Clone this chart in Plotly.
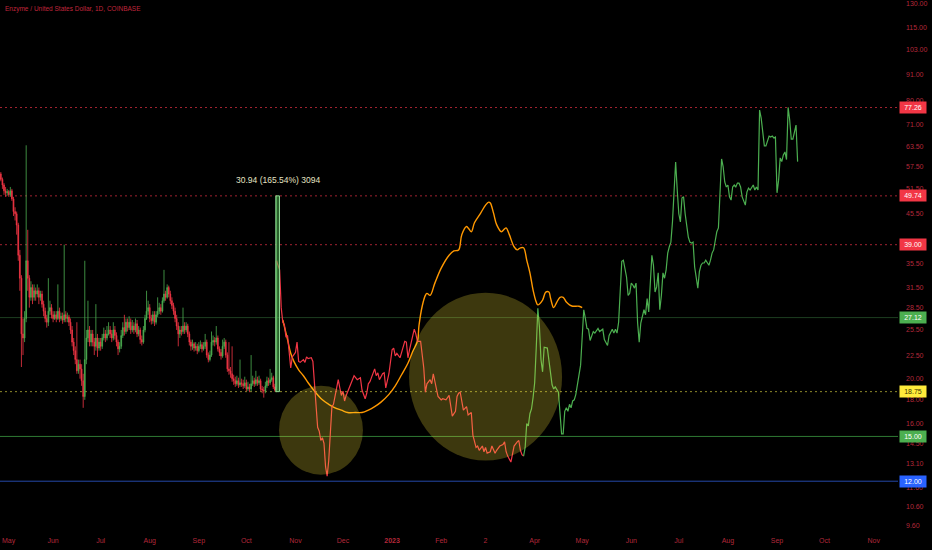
import numpy as np
import pandas as pd
import plotly.graph_objects as go

# ---------------- data ----------------
base_date = pd.Timestamp('2022-05-01')
candle_start = '2022-04-29'
first_open = 55.5
closes = [54.0, 52.5, 51.0, 50.5, 50.8, 50.0, 51.0, 49.0, 46.0, 45.5,
          43.0, 37.0, 33.0, 25.0, 24.5, 27.0, 36.0, 33.0, 30.0, 31.5,
          30.0, 31.0, 30.5, 31.0, 30.0, 30.5, 29.0, 28.0, 27.0, 26.5,
          28.0, 28.5, 27.5, 27.0, 27.5, 27.0, 28.0, 27.0, 27.3, 26.8,
          27.5, 27.0, 27.2, 26.5, 25.5, 24.0, 23.0, 22.0, 20.8, 21.5,
          21.0, 19.8, 18.3, 22.0, 24.5, 25.5, 24.0, 25.0, 24.0, 23.5,
          24.5, 23.3, 24.0, 23.5, 24.5, 25.0, 24.5, 25.0, 25.5, 25.0,
          24.5, 25.5, 24.8, 24.0, 23.2, 23.5, 24.8, 25.8, 25.3, 26.5,
          25.8, 26.5, 25.5, 26.0, 25.5, 26.3, 25.0, 25.5, 24.3, 24.0,
          25.5, 27.0, 28.0, 28.5, 27.0, 26.7, 27.5, 26.5, 27.5, 28.0,
          28.5, 28.0, 29.5, 30.5, 30.0, 31.5, 30.5, 29.5, 28.8, 28.0,
          27.0, 26.0, 25.0, 25.5, 25.3, 26.0, 25.5, 26.0, 25.0, 24.0,
          23.5, 23.8, 23.3, 23.5, 23.0, 23.5, 23.7, 23.2, 23.5, 24.0,
          22.5, 22.0, 22.5, 24.0, 24.2, 24.0, 24.5, 23.2, 22.8, 22.4,
          23.5, 24.0, 22.5, 21.0, 20.8, 20.5, 20.0, 19.8, 19.5, 19.8,
          19.4, 19.6, 19.5, 19.3, 19.6, 19.0, 19.2, 19.0, 19.5, 19.8,
          19.5, 19.9, 19.6, 19.8, 19.0, 18.9, 18.8, 19.3, 19.8, 19.6,
          19.9, 20.1, 19.2, 18.9, 36.0]
highs = [56.0, 54.5, 53.0, 52.0, 51.5, 51.2, 52.0, 51.5, 49.5, 47.0,
         46.0, 43.5, 38.0, 33.5, 27.0, 28.0, 64.0, 42.0, 33.5, 32.5,
         32.0, 32.0, 31.5, 32.0, 31.5, 31.0, 31.0, 29.5, 28.5, 27.5,
         33.0, 29.5, 29.0, 28.0, 28.0, 28.0, 32.0, 28.5, 27.8, 27.8,
         39.0, 28.0, 27.8, 27.5, 27.0, 26.0, 24.5, 23.5, 26.5, 22.0,
         22.0, 21.5, 20.5, 36.0, 25.5, 29.5, 26.0, 25.5, 25.5, 24.5,
         29.0, 25.0, 24.5, 24.5, 25.0, 25.8, 25.5, 26.0, 26.5, 26.0,
         25.5, 26.5, 26.0, 25.2, 24.3, 24.0, 25.5, 26.5, 27.5, 27.0,
         27.0, 27.3, 27.0, 26.8, 26.5, 27.0, 26.8, 26.0, 25.8, 24.8,
         26.0, 27.5, 31.0, 29.5, 29.0, 27.5, 28.0, 28.0, 28.0, 30.0,
         29.2, 29.0, 30.0, 34.4, 31.0, 32.0, 31.8, 31.0, 30.0, 29.2,
         28.5, 27.5, 26.5, 26.0, 26.0, 28.5, 26.5, 26.5, 26.3, 25.3,
         24.3, 24.3, 24.0, 24.0, 23.8, 24.0, 24.2, 24.0, 24.0, 25.0,
         24.3, 22.8, 23.0, 25.3, 24.8, 24.6, 26.0, 24.8, 23.5, 23.2,
         24.3, 24.5, 24.3, 22.8, 24.0, 21.2, 23.5, 20.4, 20.2, 20.3,
         20.1, 22.0, 20.0, 19.9, 20.2, 19.9, 19.7, 19.5, 22.5, 20.3,
         20.1, 20.8, 20.2, 20.3, 20.0, 19.3, 19.2, 19.7, 20.2, 20.1,
         21.0, 20.6, 20.3, 19.5, 49.74]
lows = [53.5, 51.5, 50.0, 49.5, 49.8, 49.5, 49.5, 48.5, 45.0, 44.0,
        41.0, 36.0, 31.0, 21.2, 22.5, 24.0, 26.5, 31.0, 28.5, 29.5,
        29.0, 29.5, 29.5, 30.0, 29.0, 29.5, 28.5, 27.3, 26.5, 25.8,
        26.0, 27.5, 27.0, 26.5, 26.8, 26.5, 26.8, 26.5, 26.7, 26.3,
        26.5, 26.5, 26.5, 26.0, 25.0, 23.5, 22.5, 21.5, 20.5, 20.5,
        20.0, 19.3, 17.3, 18.0, 21.5, 24.0, 23.5, 23.5, 23.5, 22.5,
        23.0, 22.3, 23.0, 23.0, 23.2, 24.2, 24.0, 24.2, 24.8, 24.5,
        24.0, 24.2, 24.3, 23.5, 22.5, 22.8, 23.2, 24.5, 24.8, 25.0,
        25.3, 25.5, 25.0, 25.2, 25.0, 25.2, 24.6, 24.7, 23.8, 23.6,
        23.8, 25.2, 26.8, 27.5, 26.5, 26.2, 26.3, 26.0, 26.2, 27.2,
        27.6, 27.5, 27.8, 29.2, 29.5, 29.8, 30.0, 29.0, 28.3, 27.5,
        26.5, 25.5, 23.5, 24.5, 24.8, 25.0, 25.0, 25.2, 24.6, 23.6,
        23.0, 23.1, 22.9, 23.0, 22.6, 22.8, 23.2, 22.8, 23.0, 23.2,
        22.2, 21.7, 21.8, 22.3, 23.6, 23.5, 23.7, 22.9, 22.4, 22.0,
        22.2, 23.2, 22.2, 20.7, 20.4, 20.1, 19.7, 19.4, 19.2, 19.3,
        19.1, 19.2, 19.2, 19.0, 19.1, 18.8, 18.8, 18.7, 18.8, 19.3,
        19.2, 19.3, 19.3, 19.4, 18.8, 18.6, 18.2, 18.6, 19.1, 19.3,
        19.4, 19.7, 19.0, 18.75, 18.75]

# projected path (days since 2022-05-01)
red_days = [172, 174, 175, 176, 177, 178, 179, 180, 181, 182, 184, 185, 186, 187, 189,
            190, 191, 192, 194, 195, 196, 197, 198, 199, 200, 201, 202, 203, 204, 205,
            206, 207, 208, 210, 211, 212, 213, 214, 215, 216, 218, 219, 221, 223, 225,
            226, 228, 229, 230, 231, 233, 234, 235, 236, 237, 239, 240, 241, 243, 245,
            246, 247, 248, 250, 251, 253, 254, 255, 256, 258, 259, 260, 261, 263, 265,
            266, 267, 269, 270, 271, 273, 274, 276, 277, 279, 281, 283, 285, 286, 287,
            288, 290, 292, 293, 295, 296, 298, 299, 300, 302, 303, 304, 305, 307, 308,
            310, 311, 313, 315, 316, 317, 318, 320, 321, 322, 324, 325, 326, 327, 328]
red_vals = [36.0, 34.4, 28.5, 26.5, 26.2, 24.6, 24.8, 22.8, 21.1, 22.3, 22.8, 24.0, 21.8, 21.7, 22.0,
            21.7, 22.3, 22.1, 22.2, 21.8, 19.6, 18.0, 15.7, 15.4, 14.7, 14.9, 14.5, 12.9, 12.3, 13.3,
            15.8, 17.4, 17.6, 19.1, 19.9, 19.1, 18.4, 18.8, 17.9, 18.4, 19.1, 19.6, 20.3, 19.9, 20.1,
            18.9, 18.1, 18.6, 19.5, 19.7, 20.5, 21.0, 20.3, 20.6, 19.9, 20.5, 20.6, 19.1, 20.5, 23.1,
            23.3, 22.4, 22.7, 22.2, 22.8, 24.1, 24.0, 22.2, 23.1, 24.6, 25.6, 25.0, 24.1, 24.1, 21.1,
            18.7, 19.5, 19.9, 19.5, 20.5, 19.0, 18.3, 18.0, 18.1, 18.0, 18.4, 16.6, 17.0, 18.3, 18.6,
            18.7, 17.1, 17.4, 16.7, 16.9, 15.1, 14.2, 14.3, 14.0, 14.3, 13.9, 14.2, 13.8, 13.9, 14.3,
            13.8, 14.0, 14.3, 14.4, 14.6, 13.9, 13.6, 13.2, 13.9, 14.3, 14.6, 14.7, 14.0, 13.7, 13.6]
green_days = [328, 329, 330, 331, 332, 333, 334, 335, 336, 337, 338, 339, 340, 341, 343,
              344, 345, 346, 347, 348, 350, 351, 352, 353, 354, 355, 356, 357, 358, 359,
              360, 361, 362, 363, 364, 365, 366, 367, 368, 369, 370, 372, 373, 375, 376,
              378, 379, 381, 382, 384, 385, 386, 387, 388, 389, 390, 391, 393, 394, 395,
              396, 397, 398, 399, 400, 401, 402, 403, 404, 405, 406, 407, 409, 410, 411,
              412, 413, 414, 415, 416, 417, 418, 419, 420, 421, 422, 423, 424, 425, 426,
              427, 428, 429, 430, 432, 433, 434, 435, 436, 437, 438, 439, 440, 441, 442,
              443, 445, 446, 447, 448, 449, 450, 451, 452, 453, 454, 455, 456, 457, 458,
              459, 460, 461, 462, 463, 464, 465, 466, 467, 468, 469, 470, 471, 473, 474,
              475, 476, 477, 478, 479, 480, 481, 482, 483, 484, 485, 486, 487, 488, 489,
              490, 491, 492, 493, 494, 495, 496, 497, 498, 499, 500, 501]
green_vals = [13.6, 14.2, 16.0, 15.8, 16.8, 17.2, 18.2, 19.6, 23.3, 28.4, 25.9, 22.0, 20.7, 23.4, 23.3,
              22.0, 20.6, 19.4, 19.0, 19.2, 18.7, 17.0, 15.2, 15.2, 17.0, 17.3, 17.0, 17.6, 17.3, 17.9,
              18.0, 18.5, 19.3, 20.3, 21.4, 24.6, 28.2, 27.0, 25.7, 25.6, 24.2, 25.3, 25.1, 25.7, 25.3,
              25.6, 24.3, 23.6, 24.8, 25.6, 25.1, 25.6, 25.1, 26.5, 30.0, 35.9, 36.1, 33.2, 30.3, 30.6,
              32.2, 31.9, 31.4, 32.2, 26.4, 24.0, 26.4, 27.5, 28.2, 27.5, 29.8, 27.9, 37.0, 35.2, 30.8,
              31.6, 33.9, 28.2, 30.3, 33.9, 33.0, 34.4, 37.4, 38.6, 39.5, 43.7, 51.2, 58.9, 51.2, 45.5,
              43.7, 49.2, 49.5, 45.5, 40.5, 39.5, 39.3, 39.5, 34.9, 32.7, 31.4, 34.1, 35.2, 35.6, 35.6,
              36.1, 35.2, 36.1, 37.4, 38.0, 39.9, 41.6, 42.4, 49.5, 59.8, 57.5, 53.3, 52.0, 52.5, 49.5,
              48.7, 52.0, 52.5, 52.0, 53.0, 53.0, 52.0, 49.5, 48.2, 47.5, 50.7, 51.7, 51.2, 52.5, 51.2,
              52.0, 51.2, 76.3, 73.3, 67.4, 63.8, 63.8, 65.7, 67.0, 66.7, 67.0, 66.4, 66.7, 50.5, 53.8,
              60.1, 59.0, 61.0, 61.9, 59.6, 77.3, 72.6, 66.0, 66.0, 69.1, 70.8, 59.0]
orange_days = [176, 179, 181, 183, 186, 189, 192, 196, 201, 205, 209, 213, 217, 222, 226,
               230, 234, 238, 243, 247, 251, 255, 258, 261, 262, 264, 266, 267, 269, 272,
               276, 281, 284, 287, 289, 292, 293, 295, 297, 301, 304, 306, 307, 309, 311,
               314, 316, 317, 319, 322, 324, 326, 328, 330, 332, 334, 336, 337, 340, 342,
               344, 345, 347, 349, 351, 353, 355, 357, 359, 363, 365]
orange_vals = [26.8, 24.3, 22.7, 21.8, 20.9, 20.3, 19.6, 18.8, 18.0, 17.6, 17.3, 17.1, 16.9, 16.9, 16.9,
               17.1, 17.4, 17.8, 18.5, 19.3, 20.4, 21.6, 22.9, 24.1, 26.1, 28.7, 30.3, 30.6, 30.3, 32.2,
               34.7, 37.0, 37.8, 38.0, 41.0, 42.7, 42.4, 41.6, 43.5, 45.7, 47.5, 48.2, 48.0, 45.7, 43.1,
               41.6, 42.2, 42.4, 41.0, 38.6, 38.0, 38.4, 38.4, 36.1, 33.9, 31.1, 29.3, 28.9, 29.6, 30.8,
               30.8, 29.9, 28.5, 29.3, 30.0, 30.0, 29.3, 28.9, 28.7, 28.7, 28.5]

levels = [77.26, 49.74, 39.00, 27.12, 18.75, 15.00, 12.00]
level_line_colors = ['#a12230', '#a12230', '#a12230', '#1d3d20', '#8f8a2c', '#2f7a33', '#2448a6']
level_dash = ['2px,3px', '2px,3px', '2px,3px', 'solid', '2px,3px', 'solid', 'solid']
badge_colors = ['#f23645', '#f23645', '#f23645', '#4caf50', '#ffeb3b', '#4caf50', '#2962ff']
badge_text_colors = ['#ffffff', '#ffffff', '#ffffff', '#ffffff', '#3a3500', '#ffffff', '#ffffff']

# highlighted zones: (start day, end day, low price, high price)
zones = [(173.6, 226.6, 12.4, 19.3), (255.7, 352.3, 13.3, 30.7)]

# price range measurement
meas_days = (171.6, 173.9)
meas_low, meas_high = 18.75, 49.74
meas_text = '30.94 (165.54%) 3094'

y_ticks = [130, 115, 103, 91, 80, 71, 63.5, 57.5, 51.5, 45.5, 35.5, 31.5, 28.5, 25.5,
           22.5, 20, 18, 16, 14.5, 13.1, 11.6, 10.6, 9.6]
x_tick_labels = ['May', 'Jun', 'Jul', 'Aug', 'Sep', 'Oct', 'Nov', 'Dec', '<b>2023</b>', 'Feb', '2',
                 'Apr', 'May', 'Jun', 'Jul', 'Aug', 'Sep', 'Oct', 'Nov']
title_text = 'Enzyme / United States Dollar, 1D, COINBASE'

# ---------------- figure ----------------
def day(d):
    return base_date + pd.to_timedelta(d, unit='D')

cdates = pd.date_range(candle_start, periods=len(closes), freq='D')
opens = [first_open] + closes[:-1]
month_ticks = list(pd.date_range('2022-05-01', '2023-11-01', freq='MS'))

FONT = 'Liberation Sans, Arial, sans-serif'
AX_COL = '#b3283a'

fig = go.Figure()
fig.add_trace(go.Candlestick(
    x=cdates, open=opens, high=highs, low=lows, close=closes,
    increasing=dict(line=dict(color='#4caf50', width=0.8), fillcolor='#4caf50'),
    decreasing=dict(line=dict(color='#f23645', width=0.8), fillcolor='#f23645'),
    whiskerwidth=0, hoverinfo='skip'))
fig.add_trace(go.Scatter(x=[day(d) for d in orange_days], y=orange_vals, mode='lines',
                         line=dict(color='#ff9800', width=1.4, shape='spline', smoothing=1.0),
                         hoverinfo='skip'))
fig.add_trace(go.Scatter(x=[day(d) for d in red_days], y=red_vals, mode='lines',
                         line=dict(color='#f23645', width=1.2), hoverinfo='skip'))
fig.add_trace(go.Scatter(x=[day(d) for d in green_days], y=green_vals, mode='lines',
                         line=dict(color='#4caf50', width=1.2), hoverinfo='skip'))

shapes = []
for lv, col, ds in zip(levels, level_line_colors, level_dash):
    shapes.append(dict(type='line', xref='paper', x0=0, x1=1, yref='y', y0=lv, y1=lv,
                       line=dict(color=col, width=1, dash=ds), layer='below'))
for d0, d1, lo, hi in zones:
    shapes.append(dict(type='circle', xref='x', yref='y', x0=day(d0), x1=day(d1), y0=lo, y1=hi,
                       fillcolor='rgba(255,235,59,0.24)', line=dict(width=0), layer='above'))
shapes.append(dict(type='rect', xref='x', yref='y', x0=day(meas_days[0]), x1=day(meas_days[1]),
                   y0=meas_low, y1=meas_high, fillcolor='rgba(76,175,80,0.55)',
                   line=dict(color='#8fd893', width=1), layer='above'))

annotations = [dict(text=title_text, xref='paper', yref='paper', x=0, y=1, xanchor='left',
                    yanchor='top', xshift=3, yshift=-3, showarrow=False,
                    font=dict(family=FONT, size=6.5, color='#c0263c'))]
annotations.append(dict(text=meas_text, xref='x', yref='y',
                        x=day((meas_days[0] + meas_days[1]) / 2), y=np.log10(meas_high),
                        yanchor='bottom', yshift=9, showarrow=False,
                        font=dict(family=FONT, size=8.5, color='#e4e2c2')))
for lv, bc, tc in zip(levels, badge_colors, badge_text_colors):
    annotations.append(dict(text=f'{lv:.2f}', xref='paper', yref='y', x=1, y=np.log10(lv),
                            xanchor='left', xshift=1, yanchor='middle', showarrow=False,
                            bgcolor=bc, width=24, height=9, borderpad=1, align='center',
                            font=dict(family=FONT, size=7, color=tc)))
# first month label sits at the very left edge: keep it fully inside the picture
annotations.append(dict(text=x_tick_labels[0], xref='paper', yref='paper', x=0, y=0,
                        xanchor='left', yanchor='top', yshift=-5, showarrow=False,
                        font=dict(family=FONT, size=7, color=AX_COL)))

fig.update_layout(
    width=932, height=550, margin=dict(l=0, r=34, t=0, b=20, autoexpand=False),
    paper_bgcolor='#000000', plot_bgcolor='#000000', showlegend=False,
    shapes=shapes, annotations=annotations,
    xaxis=dict(type='date', range=['2022-04-28 11:24', '2023-11-16 09:00'],
               tickvals=month_ticks[1:], ticktext=x_tick_labels[1:],
               showgrid=False, zeroline=False, showline=False,
               ticks='', ticklabelstandoff=5, automargin=False, ticklabeloverflow='allow',
               tickfont=dict(family=FONT, size=7, color=AX_COL),
               rangeslider=dict(visible=False), fixedrange=True),
    yaxis=dict(type='log', side='right', range=[0.9736, 2.1206],
               tickvals=y_ticks, ticktext=[f'{v:.2f}' for v in y_ticks],
               showgrid=False, zeroline=False, showline=False, ticks='',
               ticklabelstandoff=7, automargin=False, ticklabeloverflow='allow',
               tickfont=dict(family=FONT, size=7, color=AX_COL), fixedrange=True),
)

fig.write_html('out.html', config={'displayModeBar': False},
               post_script="document.body.style.margin='0';document.body.style.padding='0';"
                           "document.body.style.background='#000';")
